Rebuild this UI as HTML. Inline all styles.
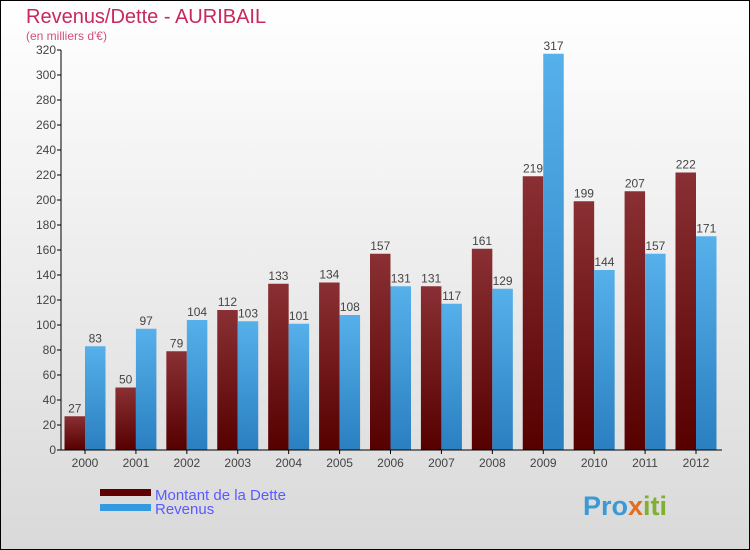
<!DOCTYPE html>
<html><head><meta charset="utf-8"><style>
body{margin:0}
svg{display:block;font-family:"Liberation Sans",sans-serif}
</style></head><body>
<svg id="c" width="750" height="550">
<defs>
<linearGradient id="bg" x1="0" y1="0" x2="0" y2="1"><stop offset="0" stop-color="#ffffff"/><stop offset="1" stop-color="#d9d9d9"/></linearGradient>
<linearGradient id="gd" x1="0" y1="0" x2="0" y2="1"><stop offset="0" stop-color="#8a3034"/><stop offset="1" stop-color="#560000"/></linearGradient>
<linearGradient id="gr" x1="0" y1="0" x2="0" y2="1"><stop offset="0" stop-color="#56b0ea"/><stop offset="1" stop-color="#2a7fc0"/></linearGradient>
</defs>
<rect x="0.5" y="0.5" width="749" height="549" fill="url(#bg)" stroke="#000"/>
<text x="26" y="23" font-size="20" fill="#c8285a">Revenus/Dette - AURIBAIL</text>
<text x="26" y="40" font-size="12" fill="#d0507a">(en milliers d'€)</text>
<g id="bars"></g>
<g id="axes"></g>
<rect x="100" y="489" width="51" height="7" fill="#600000"/>
<text x="155" y="500" font-size="15" fill="#5a5aff">Montant de la Dette</text>
<rect x="100" y="504" width="51" height="7" fill="#3399e0"/>
<text x="155" y="514" font-size="15" fill="#5a5aff">Revenus</text>
<text x="583" y="515" font-size="27" font-weight="bold" fill="#3a9ad8">Pro<tspan fill="#e07020">x</tspan><tspan fill="#80b030">iti</tspan></text>
</svg>
<script>
const years=["2000","2001","2002","2003","2004","2005","2006","2007","2008","2009","2010","2011","2012"];
const dette=[27,50,79,112,133,134,157,131,161,219,199,207,222];
const revenus=[83,97,104,103,101,108,131,117,129,317,144,157,171];
const yTicks=[0,20,40,60,80,100,120,140,160,180,200,220,240,260,280,300,320];
const NS="http://www.w3.org/2000/svg";
const x0=61,y0=450,yMax=320,plotH=400,x1=85,step=(696-85)/12,bw=20.5;
const y=v=>y0-v/yMax*plotH;
const xc=i=>x1+i*step;
function mk(t,a,p){const e=document.createElementNS(NS,t);for(const k in a)e.setAttribute(k,a[k]);p.appendChild(e);return e;}
const gb=document.getElementById('bars'),ga=document.getElementById('axes');
years.forEach((yr,i)=>{
 let r=mk('rect',{x:xc(i)-bw,y:y(dette[i]),width:bw,height:y0-y(dette[i]),fill:'url(#gd)'},gb);
 
 
 let r2=mk('rect',{x:xc(i),y:y(revenus[i]),width:bw,height:y0-y(revenus[i]),fill:'url(#gr)'},gb);
 
 
 let t=mk('text',{x:xc(i)-bw/2,y:y(dette[i])-4,'font-size':12,fill:'#444','text-anchor':'middle'},gb);t.textContent=dette[i];
 
 
 let t2=mk('text',{x:xc(i)+bw/2,y:y(revenus[i])-4,'font-size':12,fill:'#444','text-anchor':'middle'},gb);t2.textContent=revenus[i];
 
 
 mk('line',{x1:xc(i),x2:xc(i),y1:y0,y2:y0+4,stroke:'#000'},ga);
 let xl=mk('text',{x:xc(i),y:y0+17,'font-size':12,fill:'#444','text-anchor':'middle'},ga);xl.textContent=yr;
 
 
});
yTicks.forEach(v=>{
 mk('line',{x1:x0-4,x2:x0,y1:y(v),y2:y(v),stroke:'#000'},ga);
 let t=mk('text',{x:x0-5,y:y(v)+4,'font-size':12,fill:'#444','text-anchor':'end'},ga);t.textContent=v;
 
 
});
let ax=mk('line',{x1:x0,x2:x0,y1:y(yMax),y2:y0,stroke:'#000'},ga);


let bx=mk('line',{x1:x0,x2:722,y1:y0,y2:y0,stroke:'#000'},ga);


</script>
</body></html>
